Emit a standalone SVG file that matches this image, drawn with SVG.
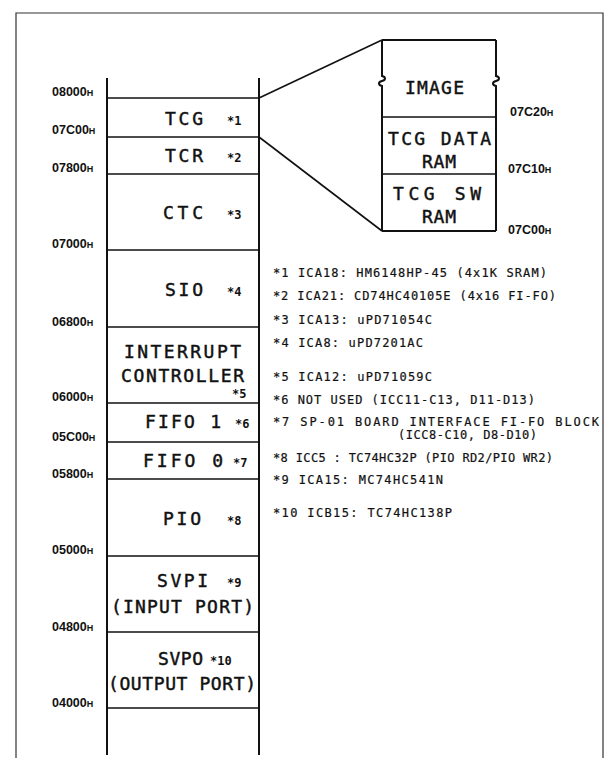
<svg xmlns="http://www.w3.org/2000/svg" width="615" height="758" viewBox="0 0 615 758">
<style>
.frame{fill:none;stroke:#333;stroke-width:1.2}
.ln{fill:none;stroke:#111;stroke-width:1.6}
.col{fill:none;stroke:#111;stroke-width:2}
.blk{font-family:"DejaVu Sans Mono",monospace;font-size:18px;fill:#111;stroke:#111;stroke-width:0.45}
.star{font-family:"DejaVu Sans Mono",monospace;font-size:12px;font-weight:bold;fill:#111}
.addr{font-family:"Liberation Sans",Arial,sans-serif;font-size:12.5px;font-weight:bold;fill:#111}
.h{font-size:9px}
.note{font-family:"DejaVu Sans Mono",monospace;font-size:12px;fill:#111;stroke:#111;stroke-width:0.2}
</style>
<rect width="615" height="758" fill="#fff"/>
<path class="frame" d="M16,758 V13 H603 V758"/>

<g id="column">
<line class="col" x1="107" y1="78" x2="107" y2="755"/>
<line class="col" x1="259" y1="78" x2="259" y2="755"/>
<line class="ln" x1="107" y1="98" x2="259" y2="98"/>
<line class="ln" x1="107" y1="137" x2="259" y2="137"/>
<line class="ln" x1="107" y1="174" x2="259" y2="174"/>
<line class="ln" x1="107" y1="250" x2="259" y2="250"/>
<line class="ln" x1="107" y1="327" x2="259" y2="327"/>
<line class="ln" x1="107" y1="403" x2="259" y2="403"/>
<line class="ln" x1="107" y1="442" x2="259" y2="442"/>
<line class="ln" x1="107" y1="479" x2="259" y2="479"/>
<line class="ln" x1="107" y1="556" x2="259" y2="556"/>
<line class="ln" x1="107" y1="632" x2="259" y2="632"/>
<line class="ln" x1="107" y1="708" x2="259" y2="708"/>
</g>

<g id="addresses">
<text class="addr" x="52" y="96">08000<tspan class="h">H</tspan></text>
<text class="addr" x="52" y="134">07C00<tspan class="h">H</tspan></text>
<text class="addr" x="52" y="172">07800<tspan class="h">H</tspan></text>
<text class="addr" x="52" y="248">07000<tspan class="h">H</tspan></text>
<text class="addr" x="52" y="326">06800<tspan class="h">H</tspan></text>
<text class="addr" x="52" y="401">06000<tspan class="h">H</tspan></text>
<text class="addr" x="52" y="441">05C00<tspan class="h">H</tspan></text>
<text class="addr" x="52" y="478">05800<tspan class="h">H</tspan></text>
<text class="addr" x="52" y="554">05000<tspan class="h">H</tspan></text>
<text class="addr" x="52" y="631">04800<tspan class="h">H</tspan></text>
<text class="addr" x="52" y="707">04000<tspan class="h">H</tspan></text>
</g>

<g id="tcg"><text class="blk" x="165" y="125" textLength="38" lengthAdjust="spacing">TCG</text><text class="star" x="227" y="125">*1</text></g>
<g id="tcr"><text class="blk" x="165" y="162" textLength="38" lengthAdjust="spacing">TCR</text><text class="star" x="227" y="162">*2</text></g>
<g id="ctc"><text class="blk" x="163" y="219" textLength="40" lengthAdjust="spacing">CTC</text><text class="star" x="227" y="219">*3</text></g>
<g id="sio"><text class="blk" x="165" y="296" textLength="38" lengthAdjust="spacing">SIO</text><text class="star" x="227" y="296">*4</text></g>
<g id="intc"><text class="blk" x="124" y="358" textLength="117" lengthAdjust="spacing">INTERRUPT</text><text class="blk" x="121" y="382" textLength="123" lengthAdjust="spacing">CONTROLLER</text><text class="star" x="232" y="398">*5</text></g>
<g id="fifo1"><text class="blk" x="145" y="428" textLength="76" lengthAdjust="spacing">FIFO 1</text><text class="star" x="235" y="428">*6</text></g>
<g id="fifo0"><text class="blk" x="143" y="467" textLength="80" lengthAdjust="spacing">FIFO 0</text><text class="star" x="233" y="467">*7</text></g>
<g id="pio"><text class="blk" x="163" y="525" textLength="38" lengthAdjust="spacing">PIO</text><text class="star" x="227" y="525">*8</text></g>
<g id="svpi"><text class="blk" x="157" y="587" textLength="51" lengthAdjust="spacing">SVPI</text><text class="star" x="227" y="587">*9</text><text class="blk" x="111" y="613" textLength="143" lengthAdjust="spacing">(INPUT PORT)</text></g>
<g id="svpo"><text class="blk" x="158" y="665" textLength="45" lengthAdjust="spacing">SVPO</text><text class="star" x="210" y="665">*10</text><text class="blk" x="108" y="690" textLength="148" lengthAdjust="spacing">(OUTPUT PORT)</text></g>

<g id="connectors">
<line class="ln" x1="259" y1="98" x2="382" y2="40"/>
<line class="ln" x1="259" y1="137" x2="382" y2="231"/>
</g>

<g id="inset">
<path class="col" d="M382,40 H496 M382,231 H496"/>
<path class="col" d="M382,40 V76 C386,77 386,80 382,81 C378,82 378,85 382,86 V231"/>
<path class="col" d="M496,40 V76 C500,77 500,80 496,81 C492,82 492,85 496,86 V231"/>
<line class="ln" x1="382" y1="117" x2="496" y2="117"/>
<line class="ln" x1="382" y1="174" x2="496" y2="174"/>
<text class="blk" x="405" y="94" textLength="59" lengthAdjust="spacing">IMAGE</text>
<text class="blk" x="388" y="145" textLength="103" lengthAdjust="spacing">TCG DATA</text>
<text class="blk" x="422" y="168" textLength="34" lengthAdjust="spacing">RAM</text>
<text class="blk" x="393" y="200" textLength="88" lengthAdjust="spacing">TCG SW</text>
<text class="blk" x="422" y="223" textLength="34" lengthAdjust="spacing">RAM</text>
<text class="addr" x="510" y="116">07C20<tspan class="h">H</tspan></text>
<text class="addr" x="508" y="173">07C10<tspan class="h">H</tspan></text>
<text class="addr" x="508" y="234">07C00<tspan class="h">H</tspan></text>
</g>

<g id="notes">
<text class="note" x="273" y="277" textLength="274" lengthAdjust="spacing">*1 ICA18: HM6148HP-45 (4x1K SRAM)</text>
<text class="note" x="273" y="300" textLength="283" lengthAdjust="spacing">*2 ICA21: CD74HC40105E (4x16 FI-FO)</text>
<text class="note" x="273" y="324" textLength="159" lengthAdjust="spacing">*3 ICA13: uPD71054C</text>
<text class="note" x="273" y="347" textLength="150" lengthAdjust="spacing">*4 ICA8: uPD7201AC</text>
<text class="note" x="273" y="381" textLength="159" lengthAdjust="spacing">*5 ICA12: uPD71059C</text>
<text class="note" x="273" y="404" textLength="262" lengthAdjust="spacing">*6 NOT USED  (ICC11-C13, D11-D13)</text>
<text class="note" x="273" y="426" textLength="326" lengthAdjust="spacing">*7 SP-01 BOARD INTERFACE FI-FO BLOCK</text>
<text class="note" x="398" y="439" textLength="139" lengthAdjust="spacing">(ICC8-C10, D8-D10)</text>
<text class="note" x="273" y="462" textLength="280" lengthAdjust="spacing">*8 ICC5 : TC74HC32P (PIO RD2/PIO WR2)</text>
<text class="note" x="273" y="484" textLength="170" lengthAdjust="spacing">*9 ICA15: MC74HC541N</text>
<text class="note" x="273" y="517" textLength="179" lengthAdjust="spacing">*10 ICB15: TC74HC138P</text>
</g>
</svg>
